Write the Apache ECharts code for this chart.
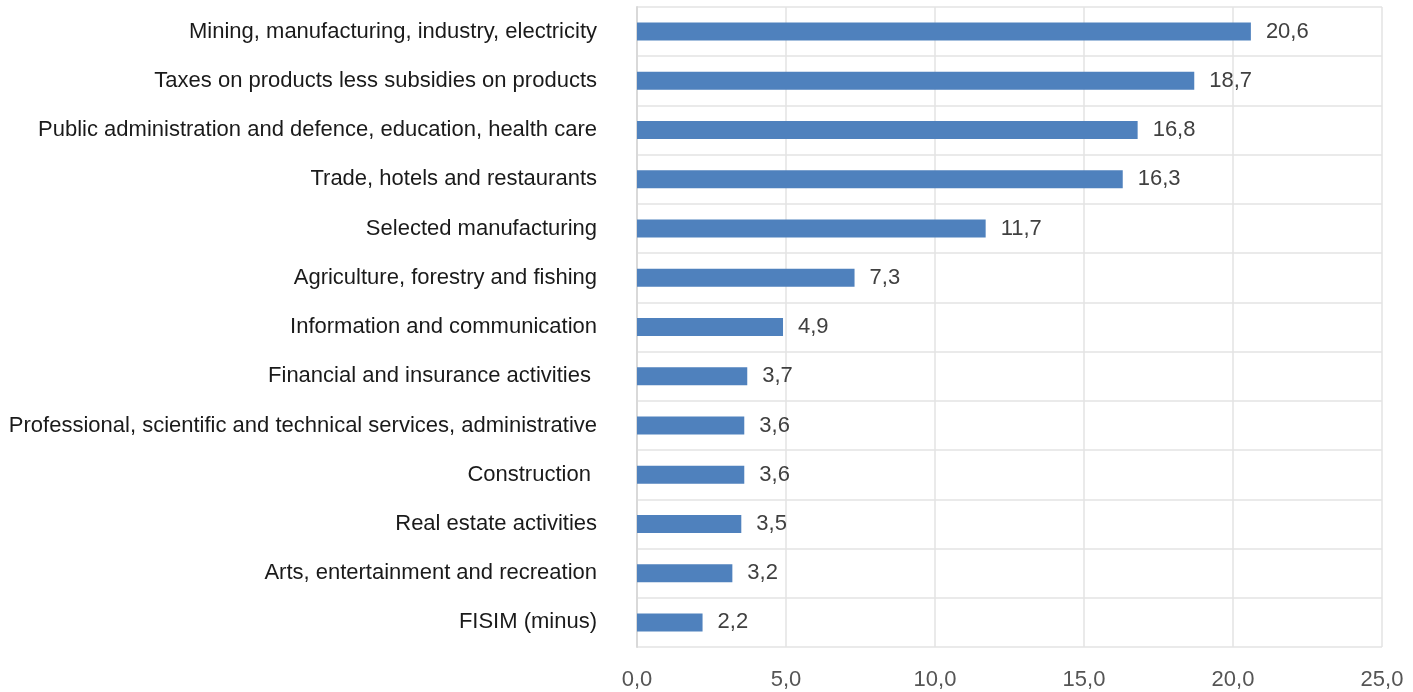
<!DOCTYPE html>
<html>
<head>
<meta charset="utf-8">
<script src="https://cdn.jsdelivr.net/npm/echarts@6/dist/echarts.min.js"></script>
<style>
  html, body { margin: 0; padding: 0; background: #fff; }
  #chart { width: 1413px; height: 692px; }
</style>
</head>
<body>
<div id="chart"></div>
<script>
var categories = [
  "Mining, manufacturing, industry, electricity",
  "Taxes on products less subsidies on products",
  "Public administration and defence, education, health care",
  "Trade, hotels and restaurants",
  "Selected manufacturing",
  "Agriculture, forestry and fishing",
  "Information and communication",
  "Financial and insurance activities ",
  "Professional, scientific and technical services, administrative",
  "Construction ",
  "Real estate activities",
  "Arts, entertainment and recreation",
  "FISIM (minus)"
];
var values = [20.6, 18.7, 16.8, 16.3, 11.7, 7.3, 4.9, 3.7, 3.6, 3.6, 3.5, 3.2, 2.2];

var fontName = "'Liberation Sans Narrow', 'Arial Narrow', 'Liberation Sans', sans-serif";

function comma(v) {
  return v.toFixed(1).replace(".", ",");
}

var myChart = echarts.init(document.getElementById("chart"));
var option = {
  animation: false,
  grid: {
    left: 637,
    right: 31,
    top: 7,
    bottom: 45
  },
  xAxis: {
    type: "value",
    min: 0,
    max: 25,
    interval: 5,
    axisLine: { show: false },
    axisTick: { show: false },
    splitLine: { show: true, lineStyle: { color: "#e3e3e3", width: 1.5 } },
    axisLabel: {
      margin: 22,
      color: "#555",
      fontSize: 22,
      fontFamily: fontName,
      formatter: function (v) { return comma(v); }
    }
  },
  yAxis: {
    type: "category",
    inverse: true,
    data: categories,
    axisLine: { show: true, lineStyle: { color: "#d9d9d9", width: 2 } },
    axisTick: { show: false },
    splitLine: { show: true, lineStyle: { color: "#e3e3e3", width: 1.5 } },
    axisLabel: {
      margin: 40,
      color: "#1a1a1a",
      fontSize: 22,
      fontFamily: fontName
    }
  },
  series: [
    {
      type: "bar",
      data: values,
      barWidth: 18,
      itemStyle: { color: "#4f81bd" },
      label: {
        show: true,
        position: "right",
        distance: 15,
        color: "#404040",
        fontSize: 22,
        fontFamily: fontName,
        formatter: function (p) { return comma(p.value); }
      }
    }
  ]
};
option && myChart.setOption(option);
</script>
</body>
</html>
